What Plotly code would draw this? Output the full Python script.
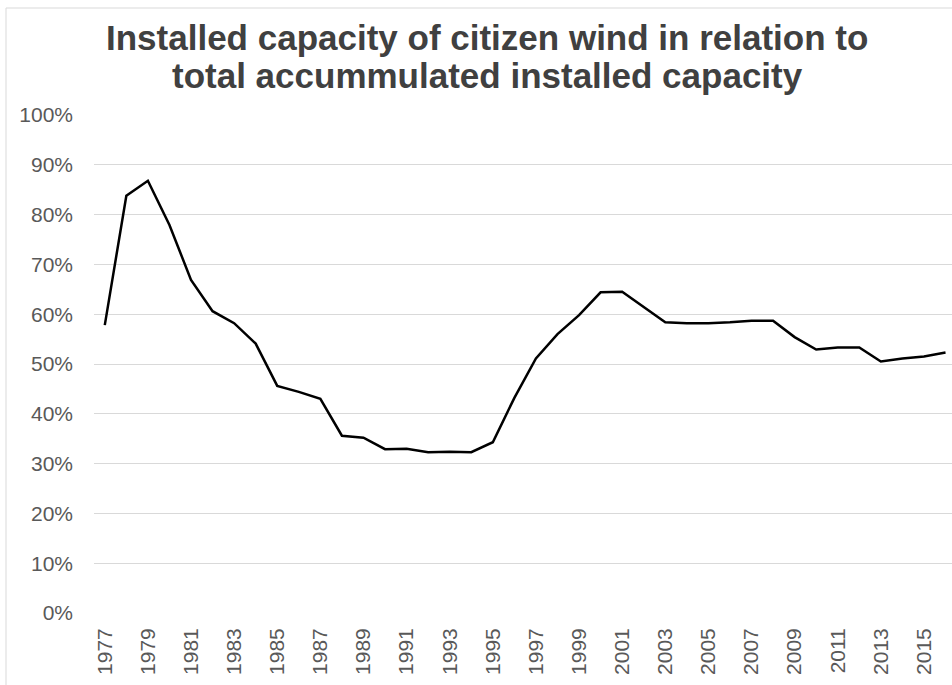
import plotly.graph_objects as go

years = list(range(1977, 2017))
share = [57.8, 83.8, 86.8, 77.9, 66.9, 60.6, 58.2, 54.1, 45.6, 44.4,
         43.0, 35.6, 35.2, 32.9, 33.0, 32.3, 32.4, 32.3, 34.3, 43.2,
         51.1, 56.0, 59.8, 64.4, 64.5, 61.5, 58.4, 58.2, 58.2, 58.4,
         58.7, 58.7, 55.4, 52.9, 53.3, 53.3, 50.5, 51.1, 51.5, 52.3]
share_frac = [v / 100 for v in share]

tick_years = years[::2]
tick_text = [str(y) for y in tick_years]
y_ticks = [i / 10 for i in range(11)]
y_text = [f"{i * 10}%" for i in range(11)]

title_lines = ["Installed capacity of citizen wind in relation to",
               "total accummulated installed capacity"]
title_centers_px = [37, 76]

W, H = 952, 685
L, R, T, B = 94, 0, 115, 72
pw = W - L - R
ph = H - T - B

FONT = "Liberation Sans, Arial, sans-serif"

fig = go.Figure()
fig.add_trace(go.Scatter(
    x=years, y=share_frac, mode="lines",
    line=dict(color="#000000", width=2.5),
    hoverinfo="x+y",
))

annotations = []
for txt, cy in zip(title_lines, title_centers_px):
    annotations.append(dict(
        text=txt, showarrow=False,
        xref="paper", yref="paper",
        x=(487 - L) / pw, y=(H - B - cy) / ph,
        xanchor="center", yanchor="middle",
        font=dict(family=FONT, size=35, color="#404040", weight="bold"),
    ))

fig.update_layout(
    width=W, height=H,
    margin=dict(l=L, r=R, t=T, b=B, pad=0, autoexpand=False),
    paper_bgcolor="white", plot_bgcolor="white",
    showlegend=False,
    font=dict(family=FONT, color="#595959", size=21),
    annotations=annotations,
    xaxis=dict(
        range=[1976.5, 2016.3],
        tickvals=tick_years, ticktext=tick_text,
        tickangle=-90,
        showgrid=False, zeroline=False,
        showline=False, ticks="",
        ticklabelstandoff=10,
        automargin=False,
        tickfont=dict(family=FONT, size=21, color="#595959"),
    ),
    yaxis=dict(
        range=[0, 1],
        tickvals=y_ticks, ticktext=y_text,
        showgrid=True, gridcolor="#d9d9d9", gridwidth=1,
        zeroline=False, showline=False, ticks="",
        ticklabelstandoff=20,
        automargin=False,
        tickfont=dict(family=FONT, size=21, color="#595959"),
    ),
    shapes=[dict(
        type="rect", xref="paper", yref="paper",
        x0=(6 - L) / pw, x1=(W + 20 - L) / pw,
        y0=-(B + 20) / ph, y1=(H - B - 8) / ph,
        line=dict(color="#d9d9d9", width=1), fillcolor="rgba(0,0,0,0)",
        layer="below",
    )],
)

fig.write_html(
    "out.html",
    config={"displayModeBar": False},
    post_script="document.body.style.margin='0';document.body.style.padding='0';",
)
